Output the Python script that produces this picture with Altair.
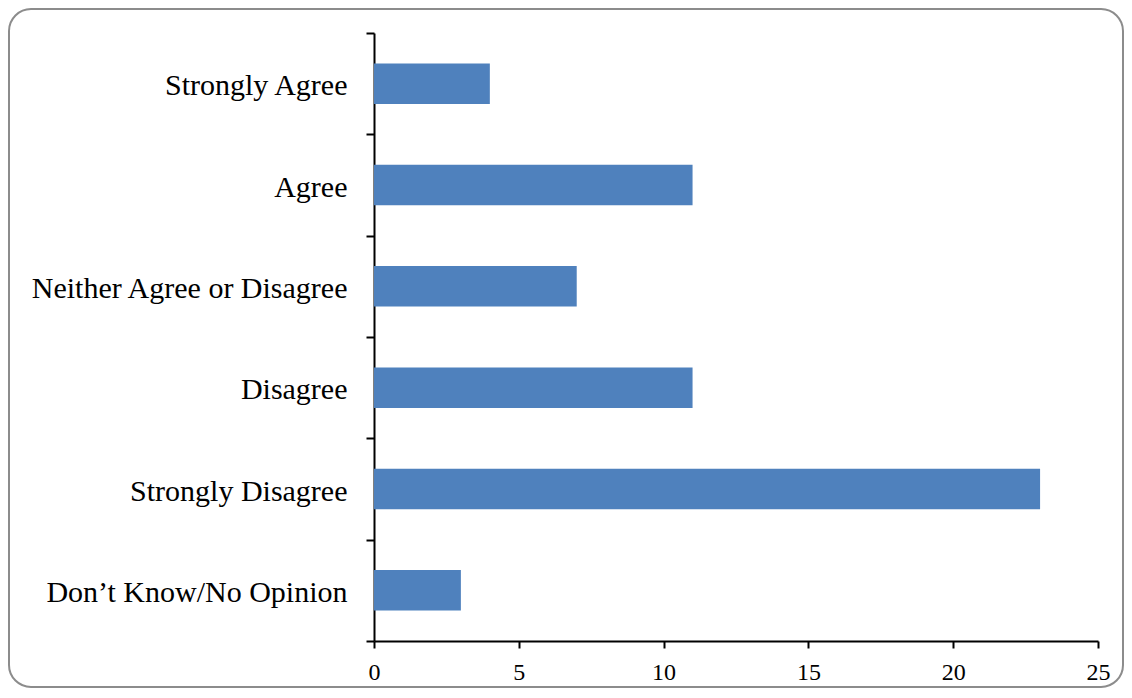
import altair as alt
import pandas as pd

categories = ["Strongly Agree", "Agree", "Neither Agree or Disagree", "Disagree",
              "Strongly Disagree", "Don\u2019t Know/No Opinion"]
counts = [4, 11, 7, 11, 23, 3]
x_ticks = [0, 5, 10, 15, 20, 25]

df = pd.DataFrame({"category": categories, "count": counts})

W, H = 724, 608
PAD_L, PAD_T, PAD_R, PAD_B = 366, 25, 26, 48
FONT = "Liberation Serif"

border = alt.Chart(pd.DataFrame({"b": [0]})).mark_rect(
    fill=None, stroke="#8c8c8c", strokeWidth=2, cornerRadius=22
).encode(
    x=alt.value(-365), x2=alt.value(749),
    y=alt.value(-24), y2=alt.value(654),
)

bars = alt.Chart(df).mark_bar(color="#4F81BD", height={"band": 0.4}).encode(
    y=alt.Y("category:N", sort=categories, title=None,
            scale=alt.Scale(paddingInner=0, paddingOuter=0),
            axis=alt.Axis(tickBand="extent", labelFont=FONT, labelFontSize=30,
                          labelColor="black", labelPadding=19, tickSize=8,
                          labelLimit=0, labelOffset=2,
                          tickColor="black", domainColor="black", domainWidth=2,
                          tickWidth=2, grid=False)),
    x=alt.X("count:Q", title=None,
            scale=alt.Scale(domain=[0, 25], nice=False),
            axis=alt.Axis(values=x_ticks, labelFont=FONT, labelFontSize=24,
                          labelColor="black", labelPadding=12, tickSize=7,
                          tickColor="black", domainColor="black", domainWidth=2,
                          tickWidth=2, grid=False, labelFlush=False)),
)

chart = alt.layer(border, bars).properties(
    width=W, height=H,
    autosize=alt.AutoSizeParams(type="none"),
    padding={"left": PAD_L, "top": PAD_T, "right": PAD_R, "bottom": PAD_B},
).configure(background="white").configure_view(strokeWidth=0, stroke="transparent")

chart.save("out.html", embed_options={"renderer": "svg", "actions": False})
